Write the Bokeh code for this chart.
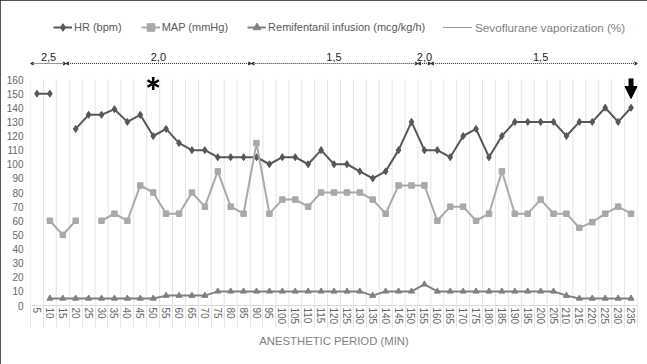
import math
from bokeh.plotting import figure
from bokeh.models import (Range1d, FixedTicker, Legend, LegendItem, Arrow,
                          VeeHead, NormalHead, ColumnDataSource)
from bokeh.core.properties import value
from bokeh.embed import file_html
from bokeh.resources import INLINE

nan = float("nan")

# ---------------- data ----------------
minutes = list(range(5, 240, 5))  # anesthetic period categories (min)

hr_bpm = [150, 150, nan, 125, 135, 135, 139, 130, 135, 120,
          125, 115, 110, 110, 105, 105, 105, 105, 100, 105,
          105, 100, 110, 100, 100, 95, 90, 95, 110, 130,
          110, 110, 105, 120, 125, 105, 120, 130, 130, 130,
          130, 120, 130, 130, 140, 130, 140]

map_mmhg = [nan, 60, 50, 60, nan, 60, 65, 60, 85, 80,
            65, 65, 80, 70, 95, 70, 65, 115, 65, 75,
            75, 70, 80, 80, 80, 80, 75, 65, 85, 85,
            85, 60, 70, 70, 60, 65, 95, 65, 65, 75,
            65, 65, 55, 59, 65, 70, 65]

remi_mcg = [nan, 5, 5, 5, 5, 5, 5, 5, 5, 5,
            7, 7, 7, 7, 10, 10, 10, 10, 10, 10,
            10, 10, 10, 10, 10, 10, 7, 10, 10, 10,
            15, 10, 10, 10, 10, 10, 10, 10, 10, 10,
            10, 7, 5, 5, 5, 5, 5]

# sevoflurane vaporization periods (start / end minute) and level
sevo_start = [2.5, 16.25, 88.0, 152.5, 157.5]
sevo_end = [16.25, 88.0, 152.5, 157.5, 237.5]
sevo_label = ["2,5", "2,0", "1,5", "2,0", "1,5"]
sevo_label_minute = [9.5, 52, 120, 155, 200]

y_ticks = list(range(0, 170, 10))
asterisk_minute = 50
arrow_minute = 235

# ---------------- layout constants ----------------
FONT = "Liberation Sans"
PX_PER_UNIT = 226 / 160.0          # 0 -> 160 spans 226 px
FRAME_H = 293
Y_TOP = FRAME_H / PX_PER_UNIT
SEVO_Y = 242 / PX_PER_UNIT
SEVO_LABEL_Y = 249 / PX_PER_UNIT
AST_Y = 222 / PX_PER_UNIT
ARROW_TOP = 227 / PX_PER_UNIT
ARROW_TIP = 207 / PX_PER_UNIT

half = (minutes[1] - minutes[0]) / 2.0
bounds = [m - half for m in minutes] + [minutes[-1] + half]

p = figure(width=647, height=364, output_backend="svg", toolbar_location=None,
           title=None,
           x_range=Range1d(minutes[0] - half, minutes[-1] + half),
           y_range=Range1d(0, Y_TOP),
           min_border_left=30, min_border_right=10, min_border_top=12,
           min_border_bottom=59)
p.outline_line_color = None
p.background_fill_color = "white"
p.border_fill_color = "white"
p.xgrid.grid_line_color = None
p.ygrid.grid_line_color = None
p.styles = {"outline": "2px solid #1e1e1e", "outline-offset": "-2px"}

# x axis
p.xaxis.ticker = FixedTicker(ticks=minutes, minor_ticks=bounds)
p.xaxis.major_label_orientation = "vertical"
p.xaxis.major_tick_line_color = None
p.xaxis.major_tick_in = 0
p.xaxis.major_tick_out = 0
p.xaxis.minor_tick_line_color = "#e4e4e4"
p.xaxis.minor_tick_in = 0
p.xaxis.minor_tick_out = 22
p.xaxis.axis_line_color = "#d9d9d9"
p.xaxis.major_label_text_font = FONT
p.xaxis.major_label_text_font_size = "10px"
p.xaxis.major_label_text_color = "#666666"
p.xaxis.major_label_standoff = -20
p.xaxis.axis_label = "ANESTHETIC PERIOD (MIN)"
p.xaxis.axis_label_text_font = FONT
p.xaxis.axis_label_text_font_size = "11.3px"
p.xaxis.axis_label_text_font_style = "normal"
p.xaxis.axis_label_text_color = "#7f7f7f"
p.xaxis.axis_label_standoff = 8

# y axis
p.yaxis.ticker = FixedTicker(ticks=y_ticks)
p.yaxis.axis_line_color = None
p.yaxis.major_tick_line_color = None
p.yaxis.minor_tick_line_color = None
p.yaxis.major_tick_in = 0
p.yaxis.major_tick_out = 0
p.yaxis.major_label_text_font = FONT
p.yaxis.major_label_text_font_size = "10px"
p.yaxis.major_label_text_color = "#666666"
p.yaxis.major_label_standoff = 7

# vertical category gridlines (0..160 only)
p.segment(x0=bounds, y0=[0] * len(bounds), x1=bounds, y1=[y_ticks[-1]] * len(bounds),
          line_color="#e4e4e4", line_width=1)

# series
HR_C = "#575757"
MAP_C = "#a9a9a9"
REMI_C = "#808080"

hr_line = p.line(minutes, hr_bpm, line_color=HR_C, line_width=2)
hr_pts = p.scatter(minutes, hr_bpm, marker="diamond", size=7,
                   fill_color=HR_C, line_color=HR_C)
map_line = p.line(minutes, map_mmhg, line_color=MAP_C, line_width=2)
map_pts = p.scatter(minutes, map_mmhg, marker="square", size=5.5,
                    fill_color=MAP_C, line_color=MAP_C)
remi_line = p.line(minutes, remi_mcg, line_color=REMI_C, line_width=2)
remi_pts = p.scatter(minutes, remi_mcg, marker="triangle", size=6,
                     fill_color=REMI_C, line_color=REMI_C)

# sevoflurane annotation
sevo_src = ColumnDataSource(dict(x0=sevo_start, x1=sevo_end,
                                 y=[SEVO_Y] * len(sevo_start)))
sevo_r = p.segment(x0="x0", y0="y", x1="x1", y1="y", source=sevo_src,
                   line_color="#333333", line_width=1, line_dash="1 1")
p.add_layout(Arrow(x_start="x0", y_start="y", x_end="x1", y_end="y", source=sevo_src,
                   line_color=None,
                   start=VeeHead(size=3, line_color="#333333", line_width=1),
                   end=VeeHead(size=3, line_color="#333333", line_width=1)))
p.text(x=sevo_label_minute, y=[SEVO_LABEL_Y] * len(sevo_label), text=sevo_label,
       text_font=value(FONT), text_font_size="11px", text_color="#262626",
       text_align="center", text_baseline="middle")

# asterisk marker (6 arms) at 50 min
p.scatter(x=[asterisk_minute] * 3, y=[AST_Y] * 3, marker="dash",
          angle=[math.pi / 2, math.pi / 6, -math.pi / 6], size=13,
          line_color="black", line_width=2.5)

# down arrow at 235 min
p.add_layout(Arrow(x_start=arrow_minute, y_start=ARROW_TOP, x_end=arrow_minute,
                   y_end=ARROW_TIP, line_color="black", line_width=5,
                   end=NormalHead(size=12, fill_color="black", line_color="black")))

# legends
leg1 = Legend(items=[LegendItem(label="HR (bpm)", renderers=[hr_line, hr_pts]),
                     LegendItem(label="MAP (mmHg)", renderers=[map_line, map_pts]),
                     LegendItem(label="Remifentanil infusion (mcg/kg/h)",
                                renderers=[remi_line, remi_pts])],
              orientation="horizontal", location=(23, 268),
              glyph_width=19, glyph_height=20, label_height=20,
              label_standoff=2, spacing=19, padding=0, margin=0,
              border_line_color=None, background_fill_alpha=0,
              label_text_font=FONT, label_text_font_size="11px",
              label_text_color="#595959")
leg2 = Legend(items=[LegendItem(label="Sevoflurane vaporization (%)", renderers=[sevo_r])],
              orientation="horizontal", location=(413, 268),
              glyph_width=29, glyph_height=20, label_height=20,
              label_standoff=3, spacing=0, padding=0, margin=0,
              border_line_color=None, background_fill_alpha=0,
              label_text_font=FONT, label_text_font_size="11.7px",
              label_text_color="#7f7f7f")
p.add_layout(leg1)
p.add_layout(leg2)

open("out.html", "w").write(file_html(p, INLINE))
